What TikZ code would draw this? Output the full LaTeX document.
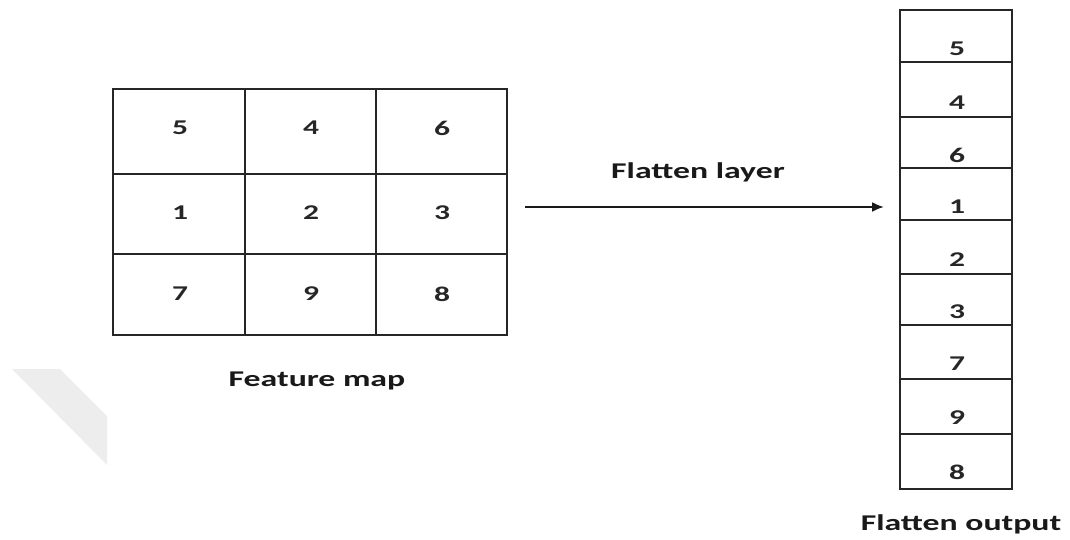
\documentclass[tikz,border=0pt]{standalone}
\usepackage{fontspec}
\setmainfont{Carlito}[FakeStretch=1.5]
\usetikzlibrary{arrows.meta}
\begin{document}
\begin{tikzpicture}[x=1pt,y=-1pt,
  cellline/.style={draw=black!85,line width=2pt},
  numtxt/.style={font=\fontsize{21}{21}\selectfont\bfseries,text=black!85,inner sep=0pt},
  labtxt/.style={font=\fontsize{22.5}{22.5}\selectfont\bfseries,text=black!90,inner sep=0pt},
  flow/.style={draw=black!90,line width=2.2pt,-{Latex[length=12pt,width=10pt]}}]
\useasboundingbox (0,0) rectangle (1070,539);
% faint watermark band
\fill[black!7] (12,369) -- (60,369) -- (107,416) -- (107,465) -- cycle;
% feature map grid
\def\xa{113}\def\xb{245}\def\xc{376}\def\xd{507}
\def\ya{89}\def\yb{174}\def\yc{254}\def\yd{335}
\draw[cellline] (\xa,\ya) rectangle (\xd,\yd);
\draw[cellline] (\xb,\ya) -- (\xb,\yd);
\draw[cellline] (\xc,\ya) -- (\xc,\yd);
\draw[cellline] (\xa,\yb) -- (\xd,\yb);
\draw[cellline] (\xa,\yc) -- (\xd,\yc);
\node[numtxt] (g11) at (180,128) {5};
\node[numtxt] (g12) at (311,128) {4};
\node[numtxt] (g13) at (442,128) {6};
\node[numtxt] (g21) at (180,213) {1};
\node[numtxt] (g22) at (311,213) {2};
\node[numtxt] (g23) at (442,213) {3};
\node[numtxt] (g31) at (180,294) {7};
\node[numtxt] (g32) at (311,294) {9};
\node[numtxt] (g33) at (442,294) {8};
\node[labtxt] (fm) at (317,381) {Feature map};
% flatten output column
\draw[cellline] (900,10) rectangle (1012,489);
\foreach \y in {62,117,168,220,274,325,379,434}{
  \draw[cellline] (900,\y) -- (1012,\y);
}
\node[numtxt] (c1) at (957,49) {5};
\node[numtxt] (c2) at (957,103) {4};
\node[numtxt] (c3) at (957,155) {6};
\node[numtxt] (c4) at (957,207) {1};
\node[numtxt] (c5) at (957,260) {2};
\node[numtxt] (c6) at (957,312) {3};
\node[numtxt] (c7) at (957,364) {7};
\node[numtxt] (c8) at (957,418) {9};
\node[numtxt] (c9) at (957,472) {8};
\node[labtxt] (fo) at (961,524) {Flatten output};
% arrow
\coordinate (as) at (525,207);
\coordinate (ae) at (884,207);
\draw[flow] (as) -- (ae);
\node[labtxt] (fl) at (698,172) {Flatten layer};
\end{tikzpicture}
\end{document}
